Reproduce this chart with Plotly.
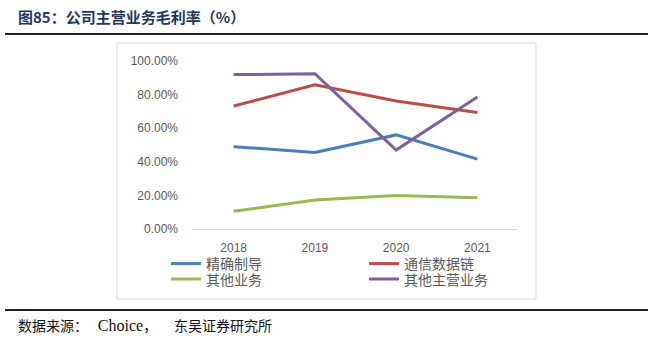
import plotly.graph_objects as go

W, H = 668, 345
L, R, T, B = 193, 518, 61, 229  # plot area in pixels

years = ["2018", "2019", "2020", "2021"]
jingque = [0.49, 0.456, 0.56, 0.416]
tongxin = [0.732, 0.858, 0.762, 0.694]
qita = [0.105, 0.173, 0.200, 0.186]
qita_zhuying = [0.919, 0.924, 0.470, 0.786]

names = ["精确制导", "通信数据链", "其他业务", "其他主营业务"]
colors = ["#4A7EBB", "#BE4B48", "#98B954", "#7D60A0"]
series = [jingque, tongxin, qita, qita_zhuying]
legend_ids = ["legend", "legend", "legend2", "legend2"]


def px(x):
    return (x - L) / (R - L)


def py(y):
    return (B - y) / (B - T)


fig = go.Figure()
for name, vals, col, lg in zip(names, series, colors, legend_ids):
    fig.add_trace(go.Scatter(
        x=years, y=vals, name=name, mode="lines",
        line=dict(color=col, width=3), legend=lg,
    ))

legend_font = dict(family="Noto Sans CJK SC, sans-serif", size=14, color="#595959")
common_legend = dict(
    orientation="h", xref="paper", yref="paper", xanchor="left", yanchor="middle",
    entrywidth=153, entrywidthmode="pixels", font=legend_font,
    bgcolor="rgba(0,0,0,0)", borderwidth=0, itemwidth=30,
)

fig.update_layout(
    width=W, height=H,
    margin=dict(l=L, r=W - R, t=T, b=H - B, pad=0),
    paper_bgcolor="white", plot_bgcolor="white",
    showlegend=True,
    legend=dict(x=px(166), y=py(264), **common_legend),
    legend2=dict(x=px(166), y=py(279.5), **common_legend),
    xaxis=dict(
        type="category", range=[-0.5, 3.5], showgrid=False, zeroline=False,
        showline=True, linecolor="#D9D9D9", linewidth=1,
        ticks="", ticklabelstandoff=8,
        tickfont=dict(family="Liberation Sans, Arial, sans-serif", size=12, color="#595959"),
    ),
    yaxis=dict(
        range=[0, 1], dtick=0.2, tick0=0, tickformat=".2%",
        showgrid=False, zeroline=False, showline=False, ticks="",
        ticklabelstandoff=14,
        tickfont=dict(family="Liberation Sans, Arial, sans-serif", size=12, color="#595959"),
    ),
    font=dict(family="Noto Sans CJK SC, sans-serif"),
)

shapes = [
    # chart frame
    dict(type="rect", xref="paper", yref="paper", x0=px(117), x1=px(536), y0=py(299), y1=py(43),
         line=dict(color="#D9D9D9", width=1), fillcolor="rgba(0,0,0,0)", layer="below"),
    # top rule
    dict(type="line", xref="paper", yref="paper", x0=px(5), x1=px(648), y0=py(34), y1=py(34),
         line=dict(color="#222222", width=2)),
    # bottom rule
    dict(type="line", xref="paper", yref="paper", x0=px(5), x1=px(648), y0=py(310), y1=py(310),
         line=dict(color="#222222", width=2)),
]
fig.update_layout(shapes=shapes)

fig.add_annotation(
    text="<b>图85：公司主营业务毛利率（%）</b>", xref="paper", yref="paper",
    x=px(16), y=py(16), xanchor="left", yanchor="middle", showarrow=False,
    font=dict(family="Noto Sans CJK SC, sans-serif", size=15, color="#1F3864"),
)
fig.add_annotation(
    text=("数据来源：\u2002\u2009"
          "<span style='font-family:Liberation Serif, serif;font-size:16px'>Choice</span>"
          "，\u2003\u2009东吴证券研究所"),
    xref="paper", yref="paper",
    x=px(16), y=py(325), xanchor="left", yanchor="middle", showarrow=False,
    font=dict(family="Noto Sans CJK SC, sans-serif", size=14, color="#111111"),
)

fig.write_html("out.html")
